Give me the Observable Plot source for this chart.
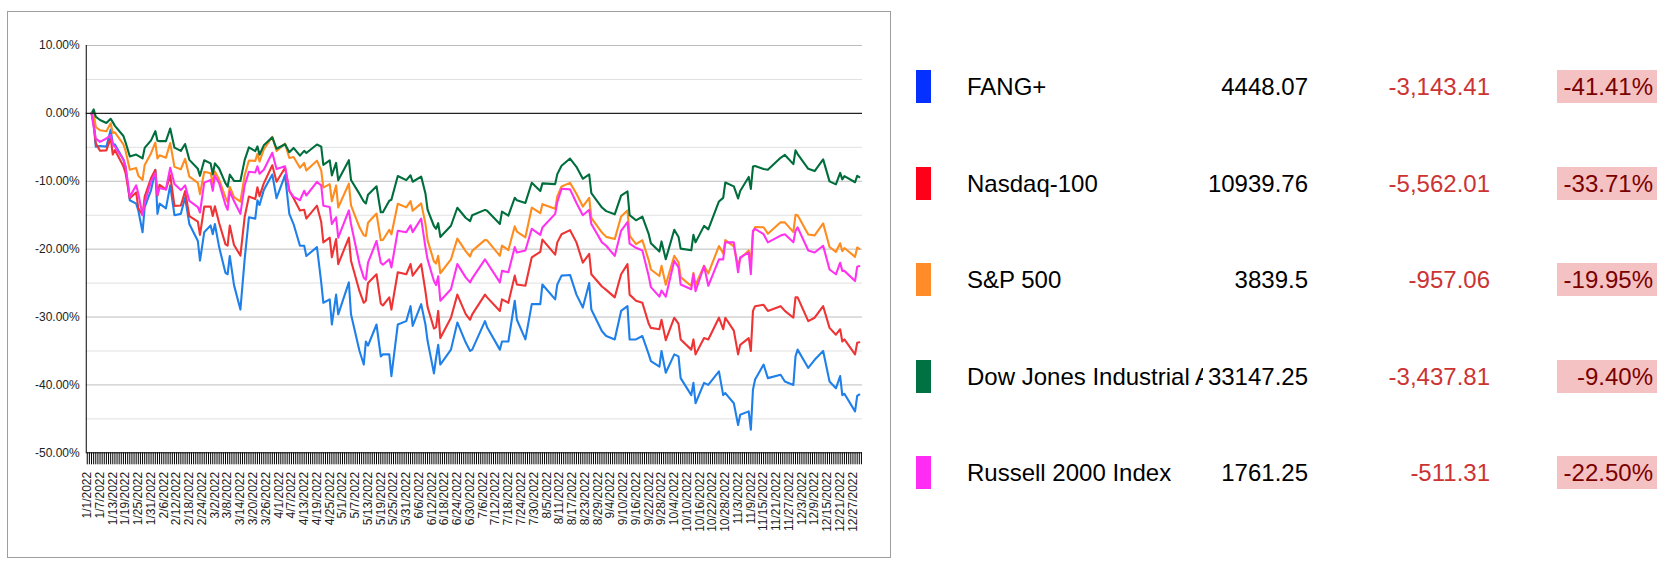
<!DOCTYPE html>
<html>
<head>
<meta charset="utf-8">
<script src="https://cdn.jsdelivr.net/npm/d3@7"></script>
<script src="https://cdn.jsdelivr.net/npm/@observablehq/plot@0.6"></script>
<style>
  body { margin: 0; background: #fff; font-family: "Liberation Sans", Arial, sans-serif; }
  #wrap { position: relative; width: 1677px; height: 571px; overflow: hidden; background: #fff; }
  #frame { position: absolute; left: 7px; top: 11px; width: 884px; height: 547px; border: 1px solid #9e9e9e; box-sizing: border-box; }
  #chart { position: absolute; left: 0; top: 0; }
  .cell { position: absolute; height: 33px; line-height: 33px; font-size: 24px; white-space: nowrap; }
  .swatch { width: 15px; }
  .name { left: 967px; width: 236px; overflow: hidden; color: #000; }
  .close { left: 1108px; width: 200px; text-align: right; color: #000; }
  .chg { left: 1290px; width: 200px; text-align: right; color: #cc3333; }
  .pct { left: 1557px; width: 100px; text-align: right; padding-right: 4px; box-sizing: border-box; background: #f4c2c2; color: #7a0000; }
</style>
</head>
<body>
<div id="wrap">
  <div id="frame"></div>
  <div id="chart"></div>
</div>
<script>
// ---- data ----
const tradingDays = [
  "1/3","1/4","1/5","1/7","1/10","1/12","1/13","1/14","1/18","1/19","1/21","1/24","1/25","1/27","1/28","1/31","2/2","2/3","2/4","2/7","2/9","2/11","2/14","2/16","2/18","2/22","2/23","2/25","2/28","3/1","3/2","3/4","3/7","3/8","3/9","3/11","3/14","3/16","3/18","3/21","3/22","3/23","3/25","3/29","3/31",
  "4/4","4/6","4/8","4/11","4/13","4/14","4/19","4/21","4/22","4/25","4/26","4/28","4/29","5/4","5/5","5/9","5/11","5/12","5/13","5/17","5/19","5/20","5/23","5/24","5/27","5/31","6/2","6/3","6/7","6/9","6/10","6/13","6/14","6/15","6/16","6/21","6/24","6/28","6/30",
  "7/1","7/7","7/8","7/14","7/15","7/18","7/21","7/22","7/26","7/29","8/2","8/3","8/9","8/10","8/12","8/16","8/19","8/22","8/25","8/26","8/31","9/2","9/6","9/9","9/12","9/13","9/16","9/19","9/22","9/23","9/27","9/28","9/30",
  "10/4","10/6","10/7","10/12","10/13","10/14","10/18","10/20","10/25","10/27","10/28","11/1","11/3","11/4","11/8","11/9","11/10","11/11","11/15","11/17","11/23","11/25","11/29","11/30","12/1","12/6","12/9","12/13","12/16","12/19","12/21","12/22","12/23","12/28","12/29","12/30"
];

const fangPlus = [
  0,-1.5,-4.9,-4.8,-4.9,-2.4,-4.5,-4.6,-6.8,-7.9,-12.8,-13.3,-14.3,-17.5,-13.8,-11.3,-8.4,-14.8,-13.3,-14.0,-10.6,-15.0,-14.8,-12.4,-16.3,-18.8,-21.7,-17.5,-16.5,-17.8,-16.3,-19.7,-23.5,-23.7,-21.0,-25.3,-28.9,-21.5,-15.3,-15.5,-12.8,-13.5,-11.3,-9.0,-12.5,
  -9.1,-14.8,-16.3,-19.5,-19.5,-21.0,-19.7,-24.9,-27.9,-27.4,-31.1,-26.7,-29.6,-24.9,-29.6,-35.0,-37.0,-33.6,-34.2,-31.1,-35.8,-35.5,-35.5,-38.7,-31.1,-30.6,-28.4,-31.3,-28.1,-31.1,-33.5,-38.3,-36.0,-34.1,-37.0,-34.8,-30.8,-33.8,-35.0,
  -34.8,-30.6,-31.5,-34.8,-33.6,-33.6,-27.6,-30.4,-33.3,-28.1,-28.1,-25.2,-27.4,-25.2,-23.9,-23.8,-26.7,-28.6,-25.0,-28.9,-32.1,-32.8,-33.3,-29.1,-28.4,-33.3,-33.3,-32.8,-35.5,-36.5,-37.3,-35.0,-38.2,
  -35.5,-35.8,-39.0,-41.5,-39.7,-42.7,-39.7,-40.0,-38.0,-41.5,-41.2,-42.7,-45.9,-44.4,-43.9,-46.6,-40.7,-39.2,-37.0,-39.0,-38.5,-39.5,-40.0,-35.8,-34.8,-37.5,-36.3,-35.0,-39.5,-40.5,-38.7,-41.5,-41.3,-43.9,-41.6,-41.41
];

const nasdaq100 = [
  0,-1.34,-4.42,-5.51,-5.45,-3.62,-6.06,-5.40,-7.80,-8.77,-12.51,-11.64,-13.99,-14.95,-12.25,-9.52,-8.31,-12.12,-10.52,-11.19,-9.13,-13.63,-13.56,-11.46,-15.14,-15.95,-17.90,-13.74,-13.72,-15.12,-13.68,-16.14,-19.29,-19.47,-16.53,-19.39,-20.94,-15.27,-12.25,-12.62,-10.89,-12.20,-10.31,-7.65,-10.08,
  -8.0,-11.4,-12.5,-14.3,-14.2,-15.5,-13.6,-16.0,-19.0,-18.3,-21.2,-18.5,-22.2,-18.3,-21.7,-26.2,-27.9,-27.6,-25.0,-23.7,-28.0,-28.3,-27.1,-28.9,-23.4,-23.7,-22.2,-23.9,-22.2,-26.2,-28.5,-31.7,-31.5,-29.1,-33.1,-30.1,-26.7,-29.6,-30.4,
  -29.6,-26.7,-27.1,-29.1,-27.4,-27.9,-23.9,-25.2,-25.4,-21.2,-20.4,-18.6,-20.8,-19.0,-17.8,-17.2,-19.0,-22.0,-20.7,-23.7,-25.5,-26.0,-27.1,-23.7,-22.2,-26.7,-27.6,-27.9,-31.0,-31.6,-31.8,-30.4,-33.4,
  -30.1,-31.0,-33.3,-34.8,-33.3,-35.5,-33.1,-33.3,-30.1,-31.8,-30.1,-32.0,-35.5,-34.1,-33.1,-35.0,-29.1,-28.4,-28.2,-29.1,-28.4,-29.1,-30.1,-27.1,-27.1,-30.6,-30.1,-28.4,-31.6,-32.6,-31.8,-33.6,-33.3,-35.5,-33.8,-33.71
];

const sp500 = [
  0,-0.06,-2.00,-2.49,-2.63,-1.46,-2.87,-2.79,-4.58,-5.50,-8.31,-8.06,-9.18,-9.80,-7.60,-5.86,-4.32,-6.65,-6.17,-6.52,-4.37,-7.88,-8.23,-6.70,-9.33,-10.25,-11.90,-8.59,-8.81,-10.22,-8.55,-9.75,-12.41,-13.05,-10.81,-12.35,-13.00,-9.14,-6.95,-6.99,-5.94,-7.10,-5.29,-3.44,-5.55,
  -4.46,-6.58,-6.43,-8.01,-7.30,-8.42,-6.97,-8.40,-10.94,-10.43,-12.95,-10.61,-13.86,-10.35,-13.54,-16.79,-17.96,-18.06,-16.11,-14.75,-18.67,-18.66,-17.15,-17.83,-13.31,-13.85,-12.92,-14.34,-13.26,-16.24,-18.67,-21.83,-22.12,-20.98,-23.55,-21.51,-18.45,-20.33,-21.08,
  -20.25,-18.64,-18.70,-20.98,-19.46,-20.13,-16.63,-17.41,-18.25,-13.89,-14.70,-13.37,-14.05,-12.22,-10.77,-10.24,-11.84,-13.73,-12.46,-15.40,-17.55,-18.19,-18.52,-15.20,-14.30,-18.01,-19.25,-18.69,-21.65,-23.00,-23.96,-22.46,-25.25,
  -20.97,-21.93,-24.12,-25.43,-23.49,-25.30,-22.44,-23.57,-19.54,-20.62,-18.67,-19.61,-22.45,-21.39,-20.19,-21.85,-17.52,-16.75,-16.78,-17.72,-16.04,-16.06,-17.49,-14.94,-15.01,-17.83,-17.97,-16.20,-19.68,-20.41,-19.14,-20.31,-19.84,-21.13,-19.75,-19.95
];

const dowJones = [
  0,0.59,-0.49,-0.97,-1.41,-0.80,-1.29,-1.84,-3.33,-4.26,-6.34,-6.07,-6.25,-6.63,-5.08,-3.97,-2.61,-4.03,-4.09,-4.08,-2.23,-5.05,-5.52,-4.51,-6.85,-8.17,-9.20,-6.91,-7.36,-8.99,-7.36,-8.12,-10.30,-10.80,-9.02,-9.95,-9.95,-6.89,-5.00,-5.56,-4.86,-6.09,-4.71,-3.53,-5.21,
  -4.55,-5.71,-5.09,-6.22,-5.52,-5.83,-4.58,-4.90,-7.58,-6.93,-9.14,-7.30,-9.86,-6.90,-9.81,-11.86,-12.99,-13.27,-11.99,-10.74,-14.57,-14.55,-12.86,-12.73,-9.22,-9.83,-9.12,-10.07,-9.31,-11.79,-14.19,-16.59,-17.00,-16.17,-18.20,-16.55,-13.90,-15.41,-15.88,
  -15.00,-14.21,-14.34,-16.28,-14.48,-15.07,-12.43,-12.81,-13.19,-10.22,-11.45,-10.31,-10.42,-8.95,-7.72,-6.65,-7.87,-9.63,-9.00,-11.76,-13.87,-14.40,-14.87,-12.12,-11.49,-14.98,-15.75,-15.21,-17.79,-19.12,-20.36,-18.86,-21.48,
  -17.14,-18.20,-19.92,-20.16,-17.90,-19.00,-16.57,-17.09,-12.98,-12.44,-10.18,-10.75,-12.53,-11.43,-9.36,-11.13,-7.84,-7.76,-8.18,-8.31,-6.54,-6.12,-7.47,-5.45,-5.99,-8.17,-8.50,-6.77,-10.02,-10.46,-8.77,-9.72,-9.24,-10.14,-9.20,-9.40
];

const russell2000 = [
  0,-2.0,-3.7,-4.2,-3.7,-3.2,-4.6,-4.9,-6.8,-7.8,-12.3,-10.6,-11.8,-15.0,-13.2,-10.0,-8.8,-12.0,-11.0,-11.2,-8.0,-10.4,-11.3,-10.6,-12.9,-13.8,-14.6,-10.2,-9.8,-11.4,-9.2,-10.3,-13.5,-14.2,-11.5,-12.9,-14.8,-10.6,-8.6,-8.7,-7.8,-8.9,-8.3,-5.8,-8.2,
  -7.8,-11.4,-12.3,-12.8,-11.4,-12.1,-10.1,-10.6,-13.6,-13.8,-16.3,-15.3,-18.3,-14.3,-16.3,-22.2,-24.2,-24.5,-22.0,-18.8,-22.0,-22.3,-21.5,-22.7,-17.3,-17.5,-16.5,-17.5,-15.5,-19.7,-21.5,-24.7,-25.3,-24.0,-27.6,-25.9,-22.2,-24.2,-24.9,
  -24.3,-21.5,-22.0,-24.9,-23.2,-23.4,-19.7,-20.5,-20.2,-17.0,-17.9,-16.8,-14.8,-13.1,-11.1,-11.2,-13.2,-15.0,-14.2,-16.3,-19.0,-19.5,-21.0,-17.3,-16.0,-19.2,-19.8,-20.2,-24.0,-25.6,-27.0,-26.1,-27.0,
  -21.7,-22.7,-25.2,-25.9,-23.7,-26.2,-22.5,-25.4,-21.5,-21.5,-19.0,-19.0,-23.4,-21.2,-20.5,-23.7,-17.3,-17.0,-17.8,-19.0,-18.0,-17.8,-19.0,-17.3,-16.8,-20.2,-20.5,-19.5,-23.0,-23.7,-22.0,-23.2,-23.2,-24.7,-22.6,-22.5
];

// legend / summary table
const names = ["FANG+", "Nasdaq-100", "S&P 500", "Dow Jones Industrial Average", "Russell 2000 Index"];
const lastValues = ["4448.07", "10939.76", "3839.5", "33147.25", "1761.25"];
const changes = ["-3,143.41", "-5,562.01", "-957.06", "-3,437.81", "-511.31"];
const pctChanges = ["-41.41%", "-33.71%", "-19.95%", "-9.40%", "-22.50%"];
const swatchColors = ["#0530ff", "#ff0019", "#ff8b29", "#007142", "#ff2cf4"];
const lineColors = ["#1f80ea", "#ee3434", "#ff8c1f", "#006e3c", "#ff33ef"];

// axis ticks
const yMajor = [10, 0, -10, -20, -30, -40, -50];
const yMinor = [5, -5, -15, -25, -35, -45];
const fmtDay = d3.utcFormat("%-m/%-d/%Y");
const allDays = d3.utcDay.range(new Date(Date.UTC(2022, 0, 1)), new Date(Date.UTC(2023, 0, 1))).map(fmtDay);
const labelDays = allDays.filter((d, i) => i % 6 === 0);

// ---- chart ----
const seriesValues = [fangPlus, nasdaq100, sp500, dowJones, russell2000];
const lines = seriesValues.map((vals, k) =>
  Plot.line(tradingDays.map((d, i) => ({date: d + "/2022", value: vals[i]})), {
    x: "date", y: "value", stroke: lineColors[k], strokeWidth: 2.1, strokeLinejoin: "round"
  })
);

const chart = Plot.plot({
  width: 880,
  height: 540,
  marginLeft: 85.7,
  marginRight: 18,
  marginTop: 45,
  marginBottom: 87.7,
  style: {fontFamily: "'Liberation Sans', Arial, sans-serif", fontSize: "12px", color: "#222", background: "transparent"},
  x: {type: "point", domain: allDays, padding: 0.5, axis: null},
  y: {domain: [-50, 10], axis: null},
  marks: [
    Plot.ruleY(yMinor, {stroke: "#e0e0e0", strokeWidth: 1}),
    Plot.ruleY(yMajor.filter(v => v !== 0 && v !== -50), {stroke: "#bdbdbd", strokeWidth: 1}),
    Plot.ruleY(yMajor, {x1: allDays[0], x2: allDays[5], dx: -1, stroke: "#000"}),
    Plot.ruleY(yMinor, {x1: allDays[0], x2: allDays[3], dx: -1, stroke: "#000"}),
    Plot.axisY({ticks: yMajor, label: null, tickSize: 0, tickPadding: 6.5, tickFormat: d => d.toFixed(2) + "%", fontSize: 12, fill: "#222"}),
    Plot.axisX({ticks: allDays, label: null, tickSize: 12, tickFormat: () => "", stroke: "#000"}),
    Plot.axisX({ticks: labelDays, label: null, tickSize: 0, tickRotate: -90, tickPadding: 19, fontSize: 12, fill: "#222"}),
    ...lines,
    Plot.ruleY([0], {stroke: "#222", strokeWidth: 1.3}),
    Plot.ruleY([-50], {stroke: "#000"}),
    Plot.ruleX([allDays[0]], {dx: -1, stroke: "#000"})
  ]
});
document.getElementById("chart").appendChild(chart);

// ---- summary rows ----
const wrap = document.getElementById("wrap");
const rowCenters = [86.5, 183, 279.5, 376, 472.5];
names.forEach((n, i) => {
  const top = rowCenters[i] - 16.5;
  const add = (cls, text, extra) => {
    const el = document.createElement("div");
    el.className = "cell " + cls;
    el.style.top = top + "px";
    if (text != null) el.textContent = text;
    if (extra) Object.assign(el.style, extra);
    wrap.appendChild(el);
  };
  add("swatch", null, {left: "916px", background: swatchColors[i]});
  add("name", n);
  add("close", lastValues[i]);
  add("chg", changes[i]);
  add("pct", pctChanges[i]);
});
</script>
</body>
</html>
